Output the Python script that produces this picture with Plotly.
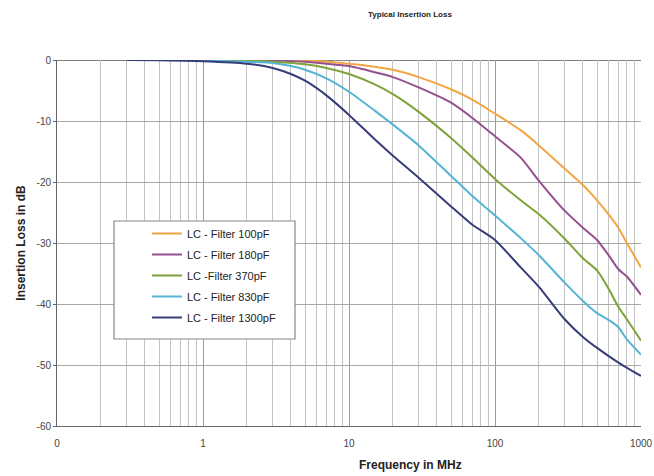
import plotly.graph_objects as go

# Frequency points (MHz) per curve
f_100 = [0.3, 1, 5, 10, 15, 20, 30, 50, 70, 100, 150, 200, 300, 400, 500, 600, 700, 800, 1000]
il_100 = [0, 0, -0.1, -0.6, -1.1, -1.6, -2.8, -4.8, -6.5, -8.8, -11.5, -14, -17.8, -20.5, -23, -25.3, -27.5, -30, -34]

f_180 = [0.3, 1, 3, 5, 7, 10, 15, 20, 30, 50, 70, 100, 150, 200, 300, 400, 500, 600, 700, 800, 1000]
il_180 = [0, 0, -0.1, -0.3, -0.6, -1.0, -2.0, -2.8, -4.5, -7, -9.5, -12.5, -16, -19.8, -24.7, -27.5, -29.5, -32, -34.3, -35.5, -38.5]

f_370 = [0.3, 1, 2, 3, 5, 7, 10, 15, 20, 30, 50, 70, 100, 150, 200, 300, 400, 500, 600, 700, 800, 1000]
il_370 = [0, 0, -0.1, -0.3, -0.7, -1.3, -2.3, -4.0, -5.6, -8.5, -12.8, -16, -19.5, -23, -25.3, -29.3, -32.5, -34.5, -37.5, -40.5, -42.5, -46]

f_830 = [0.3, 0.5, 1, 2, 3, 4, 5, 7, 10, 15, 20, 30, 50, 70, 100, 150, 200, 300, 400, 500, 600, 700, 800, 1000]
il_830 = [0, 0, -0.1, -0.3, -0.5, -1.0, -1.6, -3.0, -5.2, -8.3, -10.6, -14, -19, -22.3, -25.5, -29.2, -32, -36.5, -39.5, -41.5, -42.6, -43.8, -45.8, -48.3]

f_1300 = [0.3, 0.5, 1, 2, 3, 4, 5, 7, 10, 15, 20, 30, 50, 70, 100, 150, 200, 300, 400, 500, 700, 1000]
il_1300 = [0, -0.05, -0.2, -0.6, -1.3, -2.3, -3.4, -5.8, -9.0, -13.0, -15.7, -19.3, -24.0, -27.0, -29.5, -34, -37.2, -42.5, -45.4, -47.2, -49.6, -51.8]

series_names = ["LC - Filter 100pF", "LC - Filter 180pF", "LC -Filter 370pF", "LC - Filter 830pF", "LC - Filter 1300pF"]
series_colors = ["#F2A544", "#94508F", "#7FA23A", "#55B4D6", "#363C7A"]

x_tickvals = [0.1, 1, 10, 100, 1000]
x_ticktext = ["0", "1", "10", "100", "1000"]
x_minor = [k * 10 ** d for d in (-1, 0, 1, 2) for k in range(2, 10)]
y_tickvals = [0, -10, -20, -30, -40, -50, -60]
y_ticktext = ["0", "-10", "-20", "-30", "-40", "-50", "-60"]

FONT = "Liberation Sans, Arial, sans-serif"
L, R, T, B = 57, 13, 60, 50
PW, PH = 654 - L - R, 476 - T - B

def px_x(p):
    return (p - L) / PW

def px_y(p):
    return 1 - (p - T) / PH

fig = go.Figure()
for i, ((fx, fy), name, col) in enumerate(zip(
        [(f_100, il_100), (f_180, il_180), (f_370, il_370), (f_830, il_830), (f_1300, il_1300)],
        series_names, series_colors)):
    fig.add_trace(go.Scatter(x=fx, y=fy, mode="lines", name=name, legendgroup=f"g{i}",
                             line=dict(color=col, width=2, shape="spline", smoothing=0.6)))

fig.update_layout(
    width=654, height=476,
    margin=dict(l=L, r=R, t=T, b=B, autoexpand=False),
    paper_bgcolor="white", plot_bgcolor="white",
    font=dict(family=FONT, size=10, color="#333"),
    showlegend=True,
    legend=dict(x=px_x(147), y=px_y(219), xanchor="left", yanchor="top",
                bgcolor="rgba(0,0,0,0)", borderwidth=0, tracegroupgap=2,
                traceorder="grouped",
                font=dict(family=FONT, size=11, color="#222")),
    shapes=[dict(type="rect", xref="paper", yref="paper",
                 x0=px_x(114), x1=px_x(295),
                 y0=px_y(339), y1=px_y(221),
                 fillcolor="white", line=dict(color="#888", width=1.2), layer="above")],
    annotations=[
        dict(text="<b>Typical Insertion Loss</b>", xref="paper", yref="paper",
             x=px_x(410), y=px_y(15), xanchor="center", yanchor="middle",
             showarrow=False, font=dict(family=FONT, size=8, color="#222")),
        dict(text="<b>Frequency in MHz</b>", xref="paper", yref="paper",
             x=px_x(410), y=px_y(465), xanchor="center", yanchor="middle",
             showarrow=False, font=dict(family=FONT, size=12, color="#222")),
    ],
)

fig.update_xaxes(
    type="log", range=[-1, 3], automargin=False,
    tickmode="array", tickvals=x_tickvals, ticktext=x_ticktext,
    showgrid=True, gridcolor="#9a9a9a", gridwidth=1,
    minor=dict(tickmode="array", tickvals=x_minor, showgrid=True, gridcolor="#c4c4c4", gridwidth=1, ticks=""),
    showline=True, linecolor="#666", linewidth=1,
    ticks="", zeroline=False, ticklabelstandoff=8,
    tickfont=dict(family=FONT, size=10, color="#444"),
)
fig.update_yaxes(
    range=[-60, 0], automargin=False,
    tickmode="array", tickvals=y_tickvals, ticktext=y_ticktext,
    showgrid=True, gridcolor="#a8a8a8", gridwidth=1,
    showline=True, linecolor="#666", linewidth=1,
    ticks="outside", ticklen=3, tickcolor="#666",
    zeroline=False,
    title=dict(text="<b>Insertion Loss in dB</b>", font=dict(family=FONT, size=12, color="#222"), standoff=8),
    tickfont=dict(family=FONT, size=10, color="#444"),
)
# dark top line at 0 dB
fig.add_hline(y=0, line=dict(color="#555", width=1.5), layer="below")

fig.write_html("out.html", config={"displayModeBar": False},
               post_script="document.body.style.margin='0px';")
